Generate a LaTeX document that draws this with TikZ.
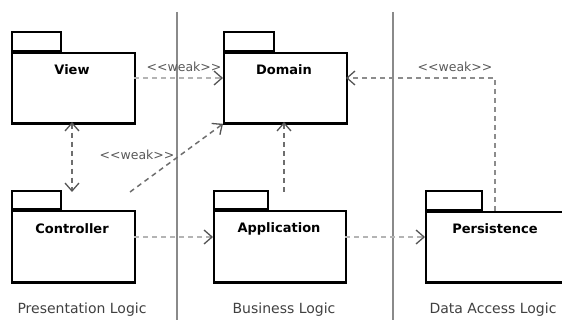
\documentclass[tikz,border=0pt]{standalone}
\usepackage{fontspec}
\setmainfont{DejaVu Sans}
\usetikzlibrary{arrows.meta}
\definecolor{sepgray}{HTML}{8A8A8A}
\definecolor{dashlight}{HTML}{B4B4B4}
\definecolor{dashdark}{HTML}{6E6E6E}
\definecolor{tipgray}{HTML}{555555}
\newcommand{\weaktext}{{<}{<}weak{>}{>}}
\tikzset{
  pkgbody/.style={draw=black, line width=1.8pt, fill=white, inner sep=0pt, anchor=north west},
  pkgtab/.style={draw=black, line width=1.8pt, fill=white, inner sep=0pt, anchor=south west,
                 minimum height=19pt},
  pkgtitle/.style={font=\fontsize{13}{15}\selectfont\bfseries, inner sep=0pt},
  layerlabel/.style={font=\fontsize{14}{16}\selectfont, text=black!75, inner sep=0pt},
  weaklabel/.style={font=\fontsize{12.5}{14}\selectfont, text=black!65, inner sep=0pt},
  separator/.style={draw=sepgray, line width=1.4pt},
  dep/.style={line width=1.5pt, dash pattern=on 5pt off 4pt,
              -{Straight Barb[length=8pt,width=14pt,line width=1.3pt,color=tipgray]}},
  deplight/.style={dep, draw=dashlight},
  depdark/.style={dep, draw=dashdark},
}
\begin{document}
\begin{tikzpicture}[x=1pt,y=-1pt]
  \useasboundingbox (0,0) rectangle (562,320);
  \clip (0,0) rectangle (562,320);

  % layer separators
  \draw[separator] (177,12) -- (177,320);
  \draw[separator] (393,12) -- (393,320);

  % packages: body, tab and title
  \node[pkgbody, minimum width=123pt, minimum height=70pt] (view) at (11,52) {};
  \node[pkgtab, minimum width=49pt] (viewtab) at (view.north west) {};
  \node[pkgtitle] (viewt) at (72,70) {View};

  \node[pkgbody, minimum width=123pt, minimum height=70pt] (domain) at (223,52) {};
  \node[pkgtab, minimum width=50pt] (domaintab) at (domain.north west) {};
  \node[pkgtitle] (domaint) at (284,70) {Domain};

  \node[pkgbody, minimum width=123pt, minimum height=71pt] (ctrl) at (11,210) {};
  \node[pkgtab, minimum width=49pt, minimum height=18pt] (ctrltab) at (ctrl.north west) {};
  \node[pkgtitle] (ctrlt) at (72,229) {Controller};

  \node[pkgbody, minimum width=132pt, minimum height=71pt] (app) at (213,210) {};
  \node[pkgtab, minimum width=54pt, minimum height=18pt] (apptab) at (app.north west) {};
  \node[pkgtitle] (appt) at (279,229) {Application};

  \node[pkgbody, minimum width=150pt, minimum height=70pt] (pers) at (425,211) {};
  \node[pkgtab, minimum width=56pt] (perstab) at (pers.north west) {};
  \node[pkgtitle] (perst) at (495,229) {Persistence};

  % heavier bottom edges
  \foreach \p in {view,domain,ctrl,app,pers}
    \draw[line width=2.8pt] (\p.south west) -- (\p.south east);

  % dependency anchor points
  \coordinate (viewout) at (134,78);
  \coordinate (domainin) at (223,78);
  \coordinate (domainright) at (346,78);
  \coordinate (corner) at (495,78);
  \coordinate (persout) at (495,211);
  \coordinate (ctrlout) at (130,192);
  \coordinate (ctrlright) at (134,237);
  \coordinate (appin) at (213,237);
  \coordinate (appright) at (345,237);
  \coordinate (persin) at (425,237);
  \coordinate (viewbot) at (72,122);
  \coordinate (ctrltop) at (72,192);
  \coordinate (apptop) at (284,192);
  \coordinate (domainbot) at (284,122);

  % dependencies
  \draw[deplight] (viewout) -- (domainin);
  \node[weaklabel] (w1) at (184,67) {\weaktext};

  \draw[depdark, {Straight Barb[length=8pt,width=14pt,line width=1.3pt,color=tipgray]}-{Straight Barb[length=8pt,width=14pt,line width=1.3pt,color=tipgray]}] (viewbot) -- (ctrltop);

  \draw[depdark] (ctrlout) -- (domain.south west);
  \node[weaklabel] (w2) at (137,155) {\weaktext};

  \draw[deplight] (ctrlright) -- (appin);
  \draw[depdark] (apptop) -- (domainbot);
  \draw[deplight] (appright) -- (persin);

  \draw[dep, draw=black!45] (persout) -- (corner) -- (domainright);
  \node[weaklabel] (w3) at (455,67) {\weaktext};

  % layer names
  \node[layerlabel] (l1) at (82,310) {Presentation Logic};
  \node[layerlabel] (l2) at (284,310) {Business Logic};
  \node[layerlabel] (l3) at (493,310) {Data Access Logic};
\end{tikzpicture}
\end{document}
